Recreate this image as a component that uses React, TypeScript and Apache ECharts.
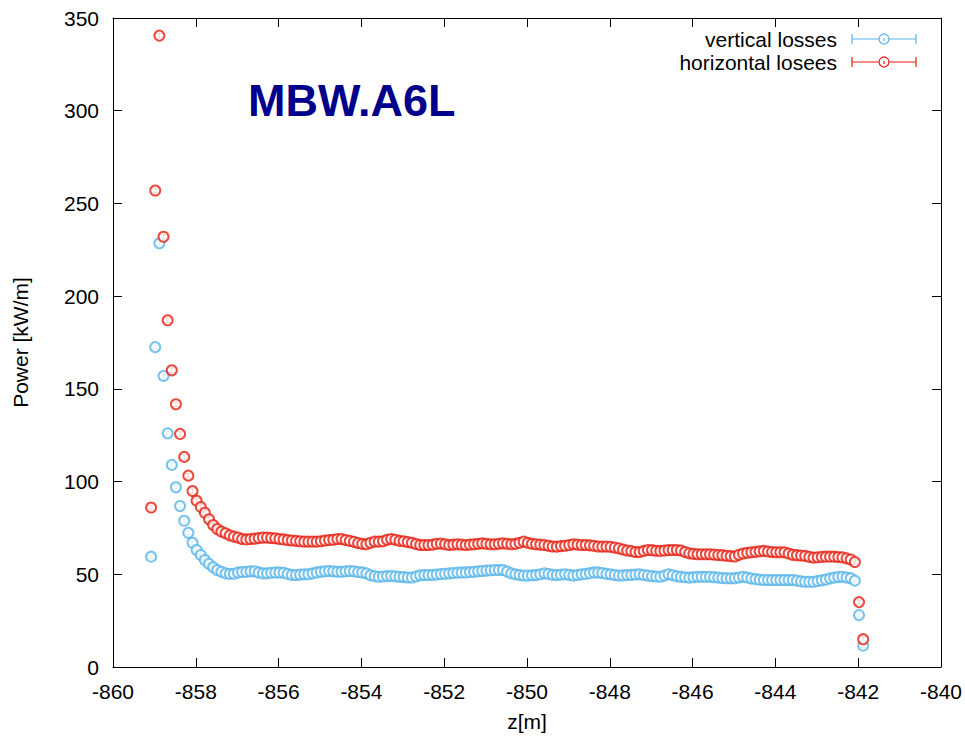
import React, { useEffect, useRef } from "react";
import * as echarts from "echarts";

const Z0 = -859.08;
const DZ = 0.1;

const horizontal = [
  86, 257, 340.5, 232, 187, 160, 141.7, 125.7, 113.3, 103.2, 94.9,
  89.7, 86.3, 83.2, 79.7, 76.6, 74.4, 73, 72.1, 71, 70.3,
  69.8, 69, 68.8, 69, 69.2, 69.5, 69.8, 69.8, 69.6, 69.4,
  69, 68.8, 68.5, 68.2, 68, 67.8, 67.6, 67.6, 67.6, 67.6,
  67.8, 68.2, 68.5, 68.6, 69, 69, 68.5, 68, 67.5, 66.8,
  66.4, 66.2, 67, 67.6, 67.6, 67.8, 68.6, 69, 68.6, 68,
  67.8, 67.4, 67, 66.3, 65.8, 65.8, 65.8, 66, 66.5, 66.6,
  66.2, 65.8, 66, 66.2, 66, 65.8, 66, 66.2, 66.5, 66.7,
  66.5, 66.2, 66.2, 66.5, 66.7, 66.5, 66.2, 66.4, 67, 67.6,
  67, 66.5, 66.2, 66, 65.8, 65.4, 65, 64.9, 65.2, 65.4,
  65.8, 66.2, 66, 65.8, 65.8, 65.6, 65.4, 65, 64.9, 64.9,
  64.8, 64.4, 64, 63.4, 62.8, 62.5, 62, 62, 62.6, 63.1,
  63, 62.7, 62.6, 62.8, 63.1, 63.1, 63.1, 62.8, 62, 61.3,
  61, 60.8, 60.8, 60.8, 60.8, 60.6, 60.4, 60.3, 60, 59.8,
  59.6, 60.5, 61.2, 61.6, 61.9, 62.1, 62.4, 62.6, 62.3, 62,
  61.9, 61.9, 61.9, 61.2, 60.5, 60.3, 60.1, 59.9, 59.4, 59,
  59.2, 59.4, 59.5, 59.5, 59.5, 59.3, 59.1, 58.6, 58, 56.6,
  35, 15,
];

const vertical = [
  59.5, 172.5, 228.5, 157, 126, 109, 96.9, 86.8, 78.9, 72.4, 67,
  63.1, 60.4, 57.7, 55.6, 53.8, 52.3, 51.4, 50.5, 50.2, 50.3,
  51, 51.2, 51.4, 51.6, 51.6, 51, 50.5, 50.5, 50.8, 51,
  51, 50.8, 50.2, 49.7, 49.6, 49.8, 50, 50, 50.5, 51,
  51.4, 51.6, 51.8, 51.6, 51.4, 51.4, 51.6, 51.8, 51.6, 51.2,
  51, 50.5, 49.5, 49, 48.7, 48.8, 49, 49.1, 48.9, 48.7,
  48.5, 48.3, 48.3, 48.8, 49.5, 49.6, 49.6, 49.7, 49.9, 50.1,
  50.3, 50.5, 50.7, 50.9, 51, 51, 51.2, 51.4, 51.6, 51.8,
  52, 52.2, 52.3, 52.3, 52.3, 51.5, 50.5, 50, 49.6, 49.3,
  49.3, 49.5, 49.6, 50, 50.5, 50.2, 49.7, 49.6, 49.8, 50,
  49.7, 49.3, 49.6, 50, 50.2, 50.6, 51, 51, 50.7, 50.2,
  50, 49.6, 49.3, 49.4, 49.6, 49.7, 49.9, 50, 49.6, 49.3,
  49, 48.8, 48.7, 49.3, 50, 49.5, 48.9, 48.6, 48.4, 48.2,
  48.4, 48.7, 48.7, 48.7, 48.7, 48.4, 48.2, 48, 47.9, 47.8,
  47.9, 48.3, 48.7, 48.3, 47.7, 47.4, 47.1, 46.9, 46.9, 46.9,
  46.9, 46.9, 46.9, 46.9, 46.9, 46.6, 46.2, 46, 46, 46,
  46.4, 46.8, 47.2, 47.8, 48.2, 48.5, 48.7, 48.3, 47.9, 46.6,
  28, 11.5,
];

const ERR_V = 1.0;
const ERR_H = 1.2;

const seriesNames = ["vertical losses", "horizontal losees"];
const colors = ["#56b4e9", "#e51e10"];
const titleText = "MBW.A6L";

const FONT = "'Liberation Sans', Arial, Helvetica, sans-serif";

function toPoints(vals: number[], err: number) {
  return vals.map((v, i) => [Math.round((Z0 + i * DZ) * 1000) / 1000, v, err]);
}

function errRender(color: string) {
  return (params: any, api: any) => {
    const x = api.value(0);
    const y = api.value(1);
    const e = api.value(2);
    const top = api.coord([x, y + e]);
    const bot = api.coord([x, y - e]);
    const w = 3.5;
    const st = { stroke: color, lineWidth: 1 };
    return {
      type: "group",
      children: [
        { type: "line", shape: { x1: top[0], y1: top[1], x2: bot[0], y2: bot[1] }, style: st },
        { type: "line", shape: { x1: top[0] - w, y1: top[1], x2: top[0] + w, y2: top[1] }, style: st },
        { type: "line", shape: { x1: bot[0] - w, y1: bot[1], x2: bot[0] + w, y2: bot[1] }, style: st },
      ],
    };
  };
}

function legendRow(i: number, y: number) {
  const c = colors[i];
  const st = { stroke: c, lineWidth: 1.2 };
  return [
    {
      type: "text",
      x: 837,
      y,
      style: { text: seriesNames[i], font: `21px ${FONT}`, fill: "#000", align: "right", verticalAlign: "middle" },
    },
    { type: "line", shape: { x1: 852, y1: y, x2: 916, y2: y }, style: st },
    { type: "line", shape: { x1: 852, y1: y - 5, x2: 852, y2: y + 5 }, style: st },
    { type: "line", shape: { x1: 916, y1: y - 5, x2: 916, y2: y + 5 }, style: st },
    { type: "circle", shape: { cx: 884, cy: y, r: 5 }, style: { stroke: c, fill: "#fff", lineWidth: 1.2 } },
    { type: "line", shape: { x1: 884, y1: y - 1, x2: 884, y2: y + 2 }, style: st },
  ];
}

export default function App() {
  const ref = useRef<HTMLDivElement>(null);
  useEffect(() => {
    if (!ref.current) return;
    const chart = echarts.init(ref.current, undefined, { renderer: "svg" });
    const axisCommon = {
      type: "value",
      axisLine: { show: true, onZero: false, lineStyle: { color: "#000", width: 1 } },
      axisTick: { show: true, inside: true, length: 9, lineStyle: { color: "#000" } },
      splitLine: { show: false },
    };
    chart.setOption({
      animation: false,
      backgroundColor: "#fff",
      grid: { left: 113, right: 22, top: 18, bottom: 70 },
      xAxis: [
        {
          ...axisCommon,
          position: "bottom",
          min: -860,
          max: -840,
          interval: 2,
          axisLabel: { color: "#000", fontSize: 21, fontFamily: FONT, margin: 14 },
          name: "z[m]",
          nameLocation: "middle",
          nameGap: 44,
          nameTextStyle: { color: "#000", fontSize: 21, fontFamily: FONT },
        },
        {
          ...axisCommon,
          position: "top",
          min: -860,
          max: -840,
          interval: 2,
          axisLabel: { show: false },
        },
      ],
      yAxis: [
        {
          ...axisCommon,
          position: "left",
          min: 0,
          max: 350,
          interval: 50,
          axisLabel: { color: "#000", fontSize: 21, fontFamily: FONT, margin: 14 },
          name: "Power [kW/m]",
          nameLocation: "middle",
          nameGap: 82,
          nameRotate: 90,
          nameTextStyle: { color: "#000", fontSize: 21, fontFamily: FONT },
        },
        {
          ...axisCommon,
          position: "right",
          min: 0,
          max: 350,
          interval: 50,
          axisLabel: { show: false },
        },
      ],
      series: [
        {
          type: "scatter",
          name: seriesNames[0],
          symbol: "emptyCircle",
          symbolSize: 10,
          itemStyle: { color: colors[0], borderColor: colors[0], borderWidth: 1 },
          data: toPoints(vertical, ERR_V),
        },
        {
          type: "custom",
          renderItem: errRender(colors[0]),
          data: toPoints(vertical, ERR_V),
          encode: { x: 0, y: 1 },
        },
        {
          type: "scatter",
          name: seriesNames[1],
          symbol: "emptyCircle",
          symbolSize: 10,
          itemStyle: { color: colors[1], borderColor: colors[1], borderWidth: 1 },
          data: toPoints(horizontal, ERR_H),
        },
        {
          type: "custom",
          renderItem: errRender(colors[1]),
          data: toPoints(horizontal, ERR_H),
          encode: { x: 0, y: 1 },
        },
      ],
      graphic: [
        {
          type: "text",
          x: 248,
          y: 100,
          style: {
            text: titleText,
            font: `bold 45px ${FONT}`,
            fill: "#00008b",
            verticalAlign: "middle",
          },
        },
        ...legendRow(0, 39),
        ...legendRow(1, 62),
      ],
    });
    return () => chart.dispose();
  }, []);
  return (
    <div
      ref={ref}
      style={{ position: "absolute", left: 0, top: 0, width: 965, height: 737 }}
    />
  );
}
